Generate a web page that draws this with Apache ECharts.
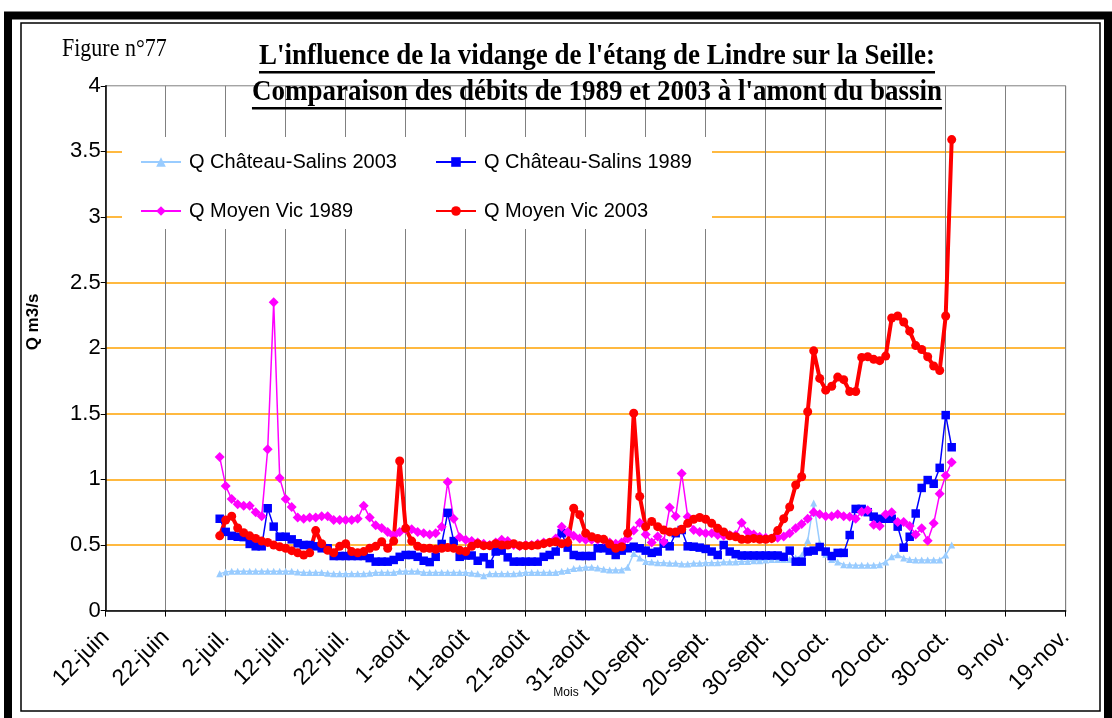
<!DOCTYPE html>
<html>
<head>
<meta charset="utf-8">
<script src="https://cdn.jsdelivr.net/npm/echarts@6/dist/echarts.min.js"></script>
<style>
  html, body { margin: 0; padding: 0; background: #fff; }
  #chart { width: 1112px; height: 718px; }
</style>
</head>
<body>
<div id="chart"></div>
<script>
// Axis tick labels, one every 10 days starting on 12 June
const tickLabels = ['12-juin', '22-juin', '2-juil.', '12-juil.', '22-juil.', '1-août', '11-août',
  '21-août', '31-août', '10-sept.', '20-sept.', '30-sept.', '10-oct.', '20-oct.', '30-oct.',
  '9-nov.', '19-nov.'];

// Daily flows (m3/s) from 1 July to 31 October; day 0 of the axis is 12 June
const firstDay = 19;

const chateauSalins2003 = [
  // juillet
  0.28, 0.295, 0.30, 0.30, 0.30, 0.30, 0.30, 0.30, 0.30, 0.30, 0.30, 0.30, 0.30, 0.295, 0.29, 0.29,
  0.29, 0.29, 0.285, 0.28, 0.28, 0.28, 0.28, 0.28, 0.28, 0.285, 0.29, 0.29, 0.29, 0.29, 0.30,
  // août
  0.30, 0.30, 0.30, 0.29, 0.29, 0.29, 0.29, 0.29, 0.29, 0.29, 0.29, 0.285, 0.28, 0.265, 0.28, 0.28,
  0.28, 0.28, 0.28, 0.285, 0.29, 0.29, 0.29, 0.29, 0.29, 0.29, 0.30, 0.305, 0.32, 0.325, 0.33,
  // septembre
  0.33, 0.325, 0.315, 0.31, 0.31, 0.31, 0.33, 0.435, 0.40, 0.375, 0.37, 0.365, 0.365, 0.36, 0.36,
  0.355, 0.355, 0.36, 0.36, 0.365, 0.365, 0.365, 0.37, 0.37, 0.37, 0.375, 0.375, 0.38, 0.38, 0.385,
  // octobre
  0.39, 0.39, 0.39, 0.39, 0.40, 0.42, 0.535, 0.82, 0.515, 0.43, 0.39, 0.37, 0.35, 0.348, 0.345, 0.345,
  0.345, 0.345, 0.35, 0.37, 0.41, 0.425, 0.40, 0.39, 0.385, 0.385, 0.385, 0.385, 0.385, 0.424, 0.50
];

const chateauSalins1989 = [
  // juillet
  0.70, 0.60, 0.57, 0.563, 0.56, 0.508, 0.49, 0.49, 0.78, 0.64, 0.563, 0.563, 0.543, 0.513, 0.50, 0.50,
  0.49, 0.475, 0.475, 0.416, 0.416, 0.416, 0.416, 0.416, 0.416, 0.40, 0.373, 0.373, 0.373, 0.386, 0.41,
  // août
  0.424, 0.424, 0.41, 0.38, 0.37, 0.41, 0.508, 0.745, 0.53, 0.41, 0.42, 0.42, 0.38, 0.406, 0.355, 0.45,
  0.457, 0.406, 0.373, 0.373, 0.373, 0.373, 0.373, 0.41, 0.424, 0.45, 0.59, 0.48, 0.424, 0.416, 0.416,
  // septembre
  0.416, 0.475, 0.475, 0.457, 0.424, 0.457, 0.475, 0.487, 0.475, 0.457, 0.44, 0.45, 0.51, 0.49, 0.59,
  0.614, 0.49, 0.487, 0.48, 0.47, 0.45, 0.424, 0.50, 0.45, 0.43, 0.42, 0.42, 0.42, 0.42, 0.42,
  // octobre
  0.42, 0.42, 0.41, 0.457, 0.373, 0.373, 0.45, 0.457, 0.485, 0.45, 0.416, 0.44, 0.44, 0.576, 0.775, 0.775,
  0.75, 0.716, 0.70, 0.70, 0.70, 0.64, 0.48, 0.563, 0.74, 0.935, 0.995, 0.967, 1.088, 1.49, 1.245
];

const moyenVic1989 = [
  // juillet
  1.17, 0.95, 0.85, 0.81, 0.80, 0.80, 0.75, 0.72, 1.23, 2.35, 1.01, 0.85, 0.79, 0.71, 0.70, 0.71,
  0.71, 0.72, 0.72, 0.69, 0.69, 0.69, 0.69, 0.70, 0.80, 0.71, 0.65, 0.63, 0.60, 0.57, 0.60,
  // août
  0.62, 0.62, 0.60, 0.59, 0.58, 0.59, 0.64, 0.98, 0.70, 0.56, 0.54, 0.53, 0.52, 0.51, 0.50, 0.52,
  0.54, 0.53, 0.50, 0.49, 0.50, 0.50, 0.51, 0.52, 0.52, 0.55, 0.64, 0.60, 0.57, 0.55, 0.54,
  // septembre
  0.54, 0.54, 0.54, 0.52, 0.51, 0.52, 0.55, 0.61, 0.67, 0.58, 0.52, 0.565, 0.525, 0.785, 0.72,
  1.045, 0.716, 0.615, 0.60, 0.59, 0.59, 0.576, 0.57, 0.576, 0.576, 0.67, 0.60, 0.58, 0.563, 0.555,
  // octobre
  0.55, 0.555, 0.565, 0.59, 0.627, 0.66, 0.70, 0.75, 0.735, 0.72, 0.72, 0.735, 0.72, 0.716, 0.70, 0.754,
  0.765, 0.655, 0.645, 0.735, 0.75, 0.675, 0.675, 0.645, 0.58, 0.627, 0.533, 0.665, 0.89, 1.03, 1.13
];

const moyenVic2003 = [
  // juillet
  0.57, 0.69, 0.72, 0.63, 0.594, 0.57, 0.55, 0.53, 0.52, 0.50, 0.487, 0.475, 0.457, 0.44, 0.424, 0.44,
  0.61, 0.51, 0.46, 0.44, 0.49, 0.51, 0.45, 0.44, 0.45, 0.475, 0.49, 0.525, 0.475, 0.53, 1.14,
  // août
  0.627, 0.53, 0.49, 0.475, 0.475, 0.467, 0.475, 0.48, 0.475, 0.46, 0.45, 0.49, 0.51, 0.495, 0.495, 0.51,
  0.50, 0.50, 0.51, 0.495, 0.495, 0.495, 0.50, 0.51, 0.52, 0.525, 0.51, 0.52, 0.78, 0.73, 0.59,
  // septembre
  0.563, 0.55, 0.543, 0.507, 0.475, 0.487, 0.59, 1.505, 0.87, 0.64, 0.68, 0.64, 0.614, 0.60, 0.60,
  0.62, 0.665, 0.696, 0.71, 0.696, 0.665, 0.627, 0.60, 0.57, 0.563, 0.543, 0.543, 0.55, 0.543, 0.543,
  // octobre
  0.55, 0.61, 0.70, 0.79, 0.957, 1.02, 1.516, 1.98, 1.77, 1.68, 1.71, 1.78, 1.76, 1.67, 1.67, 1.93,
  1.935, 1.915, 1.905, 1.94, 2.23, 2.245, 2.20, 2.13, 2.02, 1.99, 1.935, 1.864, 1.83, 2.245, 3.59
];

const seriesNames = ['Q Château-Salins 2003', 'Q Château-Salins 1989', 'Q Moyen Vic 1989', 'Q Moyen Vic 2003'];
const titleLines = ["L'influence de la vidange de l'étang de Lindre sur la Seille:",
  "Comparaison des débits de 1989 et 2003 à l'amont du bassin"];

const toPoints = arr => arr.map((v, i) => [firstDay + i, v]);

const SANS = '"Liberation Sans", Arial, sans-serif';
const SERIF = '"Liberation Serif", "Times New Roman", serif';

// text width helper used to size the title underlines
const measureCtx = document.createElement('canvas').getContext('2d');
function textWidth(str, font) { measureCtx.font = font; return measureCtx.measureText(str).width; }

const titleFont = 'bold 27px ' + SERIF;
const titleCenter = 597;
const titleY = [56, 92];
const titleGraphics = [];
titleLines.forEach((line, k) => {
  const w = textWidth(line, titleFont);
  titleGraphics.push({
    type: 'text', x: titleCenter, y: titleY[k], z: 10, scaleY: 1.12,
    style: { text: line, font: titleFont, fill: '#000', textAlign: 'center', textVerticalAlign: 'middle' }
  });
  titleGraphics.push({
    type: 'rect', z: 10,
    shape: { x: titleCenter - w / 2, y: titleY[k] + 15, width: w, height: 2.5 },
    style: { fill: '#000' }
  });
});

const chart = echarts.init(document.getElementById('chart'));

const legendSlots = [
  { left: 140, top: 152 }, { left: 435, top: 152 },
  { left: 140, top: 201 }, { left: 435, top: 201 }
];

const gridLineGrey = '#808080';
const gridLineOrange = '#FFA200';

chart.setOption({
  backgroundColor: '#fff',
  animation: false,
  grid: {
    left: 105.7, right: 46.3, top: 85.8, bottom: 107.4, containLabel: false,
    show: true, borderColor: gridLineGrey, borderWidth: 1, backgroundColor: 'transparent'
  },
  legend: seriesNames.map((name, i) => ({
    data: [name],
    left: legendSlots[i].left,
    top: legendSlots[i].top,
    itemWidth: 40,
    itemHeight: 12,
    itemGap: 0,
    padding: 0,
    selectedMode: false,
    textStyle: { fontFamily: SANS, fontSize: 20, color: '#000', padding: [0, 0, 0, 3] }
  })),
  xAxis: {
    type: 'value',
    min: 0, max: 160, interval: 10,
    axisLine: { show: true, lineStyle: { color: '#000', width: 1.5 } },
    axisTick: { show: true, length: 6, lineStyle: { color: '#000' } },
    axisLabel: {
      rotate: 45, margin: 23,
      fontFamily: SANS, fontSize: 23, color: '#000',
      formatter: v => tickLabels[Math.round(v / 10)]
    },
    splitLine: { show: true, lineStyle: { color: gridLineGrey, width: 1 } }
  },
  yAxis: {
    type: 'value',
    min: 0, max: 4, interval: 0.5,
    axisLine: { show: true, lineStyle: { color: '#000', width: 1.5 } },
    axisTick: { show: true, length: 5, lineStyle: { color: '#000' } },
    axisLabel: { fontFamily: SANS, fontSize: 22, color: '#000', margin: 5 },
    splitLine: { show: true, showMinLine: false, showMaxLine: false,
      lineStyle: { color: gridLineOrange, width: 1.5 } }
  },
  graphic: [
    // page frame
    { type: 'rect', z: 0, silent: true,
      shape: { x: 8, y: 15.5, width: 1100, height: 760 },
      style: { fill: 'none', stroke: '#000', lineWidth: 8 } },
    { type: 'rect', z: 0, silent: true,
      shape: { x: 21, y: 23, width: 1079, height: 688 },
      style: { fill: 'none', stroke: '#000', lineWidth: 1.5 } },
    // legend box
    { type: 'rect', z: 3, silent: true,
      shape: { x: 122, y: 137, width: 590, height: 92 },
      style: { fill: '#fff' } },
    { type: 'text', x: 62, y: 50, z: 10, scaleY: 1.1,
      style: { text: 'Figure n°77', font: '22px ' + SERIF, fill: '#000', textVerticalAlign: 'middle' } },
    { type: 'text', x: 33, y: 322, rotation: Math.PI / 2, z: 10,
      style: { text: 'Q m3/s', font: 'bold 17px ' + SANS, fill: '#000', textAlign: 'center', textVerticalAlign: 'middle' } },
    { type: 'text', x: 566, y: 693, z: 10,
      style: { text: 'Mois', font: '12px ' + SANS, fill: '#000', textAlign: 'center', textVerticalAlign: 'middle' } },
    ...titleGraphics
  ],
  series: [
    {
      name: seriesNames[0], type: 'line', data: toPoints(chateauSalins2003),
      symbol: 'triangle', symbolSize: 7,
      lineStyle: { color: '#99CCFF', width: 1.5 }, itemStyle: { color: '#99CCFF' }
    },
    {
      name: seriesNames[1], type: 'line', data: toPoints(chateauSalins1989),
      symbol: 'rect', symbolSize: 8.5,
      lineStyle: { color: '#0000FF', width: 1.5 }, itemStyle: { color: '#0000FF' }
    },
    {
      name: seriesNames[2], type: 'line', data: toPoints(moyenVic1989),
      symbol: 'diamond', symbolSize: 10,
      lineStyle: { color: '#FF00FF', width: 1.5 }, itemStyle: { color: '#FF00FF' }
    },
    {
      name: seriesNames[3], type: 'line', data: toPoints(moyenVic2003),
      symbol: 'circle', symbolSize: 9,
      lineStyle: { color: '#FF0000', width: 4 }, itemStyle: { color: '#FF0000' }
    }
  ]
});
</script>
</body>
</html>
